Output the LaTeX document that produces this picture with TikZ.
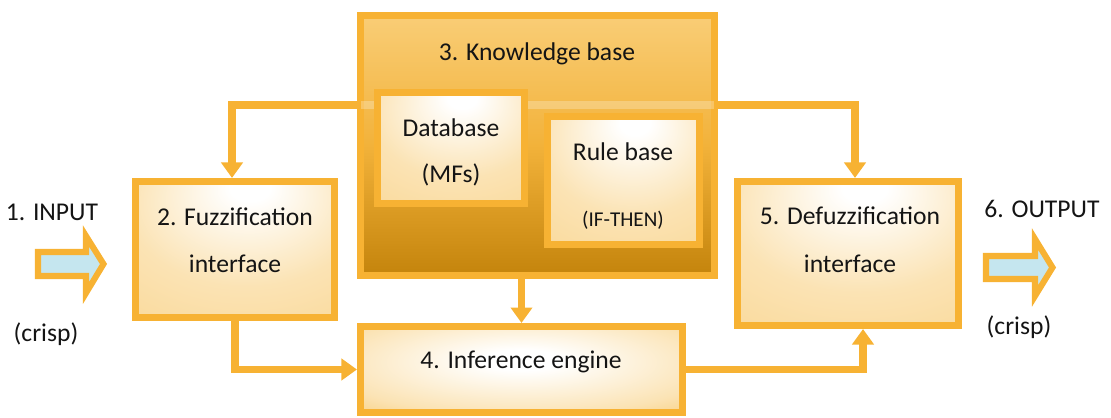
\documentclass[tikz,border=0pt]{standalone}
\usepackage{fontspec}
\setmainfont{Carlito}
\usetikzlibrary{arrows.meta,calc}
\definecolor{org}{HTML}{F7B233}
\definecolor{ink}{HTML}{141414}
\definecolor{blueF}{HTML}{C5E6EF}
\definecolor{bmid}{HTML}{FBE3B4}
\definecolor{bedge}{HTML}{F9D48C}
\definecolor{bdark}{HTML}{F6C462}
\definecolor{iedge}{HTML}{F6BE52}
\definecolor{idark}{HTML}{F4B23A}
\definecolor{kbtop}{HTML}{F9CD76}
\definecolor{kbmid}{HTML}{F2B23A}
\definecolor{kbbot}{HTML}{C4840C}
\pgfdeclareradialshading{softbox}{\pgfpoint{4bp}{24bp}}{color(0bp)=(white); color(5bp)=(white); color(30bp)=(bmid); color(60bp)=(bedge); color(95bp)=(bdark)}
\pgfdeclareradialshading{infshade}{\pgfpoint{0bp}{6bp}}{color(0bp)=(white); color(6bp)=(white); color(30bp)=(bmid); color(50bp)=(iedge); color(80bp)=(idark)}
\begin{document}
\begin{tikzpicture}[x=0.025cm,y=-0.025cm,
  box/.style={draw=org, line width=5pt, inner sep=0pt, rectangle},
  conn/.style={draw=org, line width=5pt, line join=miter, -{Triangle[width=15pt,length=11pt]}},
  lab/.style={font=\fontsize{18.2}{22}\selectfont, text=ink, inner sep=0pt, anchor=base},
  smalllab/.style={font=\fontsize{15}{18}\selectfont, text=ink, inner sep=0pt, anchor=base},
  bigarrow/.style={draw=org, line width=4.3pt, fill=blueF, line join=miter}]
\useasboundingbox (0,0) rectangle (1111,418);

% main boxes
\node[box, shading=softbox, minimum width=4.975cm, minimum height=3.4cm] (fuzz) at (235,249.5) {};
\node[box, shading=softbox, minimum width=5.525cm, minimum height=3.6cm] (defuzz) at (848,253.5) {};
\node[box, shading=infshade, minimum width=8.05cm, minimum height=2.15cm] (inf) at (521.5,369.5) {};

% feedback lines from the knowledge base
\coordinate (topM) at (537,105);
\coordinate (topL) at (232,105);
\coordinate (topR) at (855,105);
\draw[conn] (topM) -- (topL) -- (topL |- fuzz.north);
\draw[conn] (topM) -- (topR) -- (topR |- defuzz.north);

% knowledge base
\node[box, top color=kbtop, bottom color=kbbot, middle color=kbmid, minimum width=8.85cm, minimum height=6.5cm] (kb) at (537.5,145.5) {};
\draw[draw=white, opacity=0.25, line width=5pt] (kb.west |- topM) ++(4,0) -- ($(kb.east |- topM)+(-4,0)$);
\node[box, shading=softbox, minimum width=3.675cm, minimum height=2.775cm] (db) at (451,148) {};
\node[box, shading=softbox, minimum width=3.8cm, minimum height=3.2cm] (rb) at (623.5,180.5) {};

% connectors
\draw[conn] (kb.south -| inf.north) -- (inf.north);
\draw[conn] (fuzz.south) |- (inf.west);
\draw[conn] (inf.east) -| ($(defuzz.south)+(15,0)$);

% input / output arrows
\draw[bigarrow] (38,252) -- (86,252) -- (86,236) -- (103.5,264) -- (86,293) -- (86,276) -- (38,276) -- cycle;
\draw[bigarrow] (986,256) -- (1035,256) -- (1035,239) -- (1052.5,267.5) -- (1035,296) -- (1035,279) -- (986,279) -- cycle;

% texts
\node[lab] (tin) at (52,221) {1. INPUT};
\node[lab] (tcin) at (46,342) {(crisp)};
\node[lab] (tout) at (1042,218) {6. OUTPUT};
\node[lab] (tcout) at (1019,335) {(crisp)};
\node[lab] (tkb) at (537,61) {3. Knowledge base};
\node[lab] (tdb1) at (451,137) {Database};
\node[lab] (tdb2) at (451,183) {(MFs)};
\node[lab] (trb1) at (623,161) {Rule base};
\node[smalllab] (trb2) at (623,227) {(IF-THEN)};
\node[lab] (tfz1) at (235,226) {2. Fuzzification};
\node[lab] (tfz2) at (235,273) {interface};
\node[lab] (tdf1) at (850,225) {5. Defuzzification};
\node[lab] (tdf2) at (850,273) {interface};
\node[lab] (tinf) at (521,369) {4. Inference engine};
\end{tikzpicture}
\end{document}
